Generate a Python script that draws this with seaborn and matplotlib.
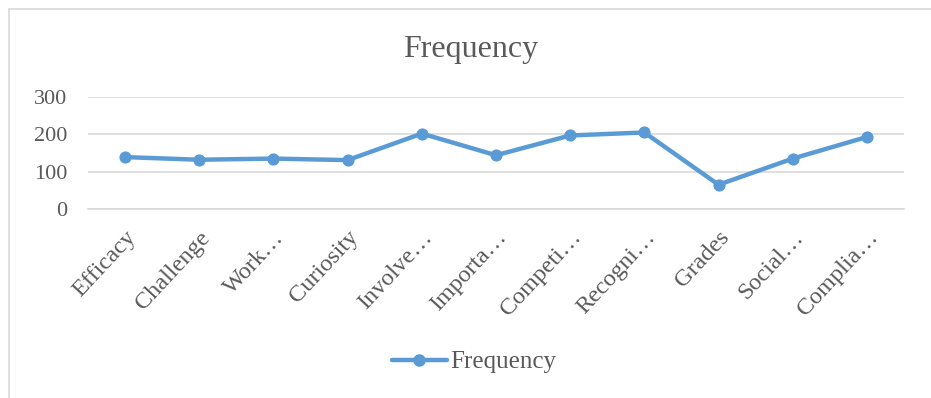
import matplotlib
matplotlib.use("Agg")
import matplotlib.pyplot as plt
import seaborn as sns
import pandas as pd
from matplotlib.lines import Line2D

categories = ["Efficacy", "Challenge", "Work…", "Curiosity", "Involve…", "Importa…",
              "Competi…", "Recogni…", "Grades", "Social…", "Complia…"]
frequency = [139, 132, 135, 131, 202, 144, 197, 205, 65, 135, 193]
y_ticks = [0, 100, 200, 300]

df = pd.DataFrame({"category": categories, "Frequency": frequency})
df["pos"] = range(len(categories))

sns.set_theme(style="white")
plt.rcParams["font.family"] = ["Liberation Serif", "DejaVu Serif"]

blue = "#5B9BD5"
txt = "#595959"
grid = "#D9D9D9"

fig = plt.figure(figsize=(9.31, 3.98), dpi=100)
ax = fig.add_axes([88/931, 1-209/398, (904-88)/931, (209-97)/398])

sns.lineplot(data=df, x="pos", y="Frequency", ax=ax, color=blue, linewidth=3.2,
             marker="o", markersize=8, markeredgecolor=blue, legend=False)

ax.set_xlim(-0.5, len(categories) - 0.5)
ax.set_ylim(0, 300)
ax.set_yticks(y_ticks)
ax.set_yticklabels([str(v) for v in y_ticks], fontsize=16, color=txt)
ax.set_xticks(range(len(categories)))
ax.set_xticklabels(categories, rotation=47, ha="right", rotation_mode="anchor",
                   fontsize=17.5, color=txt)
ax.tick_params(axis="y", length=0, pad=15)
ax.tick_params(axis="x", length=0, pad=13)
ax.set_xlabel("")
ax.set_ylabel("")
for s in ["top", "right", "left"]:
    ax.spines[s].set_visible(False)
ax.spines["bottom"].set_color(grid)
ax.spines["bottom"].set_linewidth(1.2)
ax.grid(axis="y", color=grid, linewidth=1.2)
ax.set_axisbelow(True)

fig.text(471/931, 1-49/398, "Frequency", ha="center", va="center", fontsize=23, color=txt)

handle = Line2D([], [], color=blue, linewidth=3.2, marker="o", markersize=8)
fig.legend([handle], ["Frequency"], loc="center", bbox_to_anchor=(474/931, 1-362/398),
           frameon=False, fontsize=18, labelcolor=txt, handlelength=2.2, handletextpad=0.15)

# chart area border
fig.add_artist(Line2D([8.5/931, 8.5/931], [0, 1-8.5/398], color=grid, linewidth=1.2,
                      transform=fig.transFigure))
fig.add_artist(Line2D([8.5/931, 1], [1-8.5/398, 1-8.5/398], color=grid, linewidth=1.2,
                      transform=fig.transFigure))

fig.savefig("out.png", dpi=100)
